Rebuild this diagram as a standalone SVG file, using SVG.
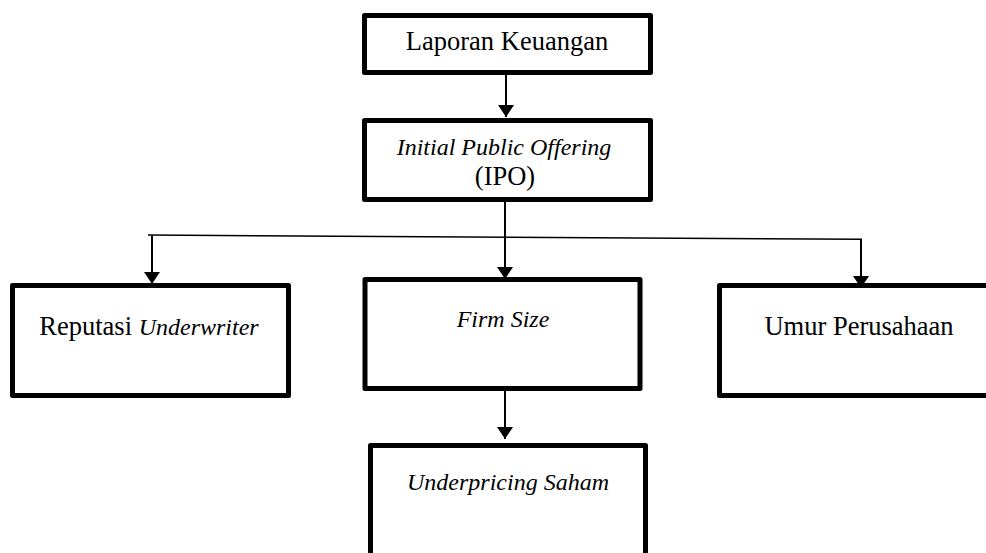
<svg xmlns="http://www.w3.org/2000/svg" width="986" height="553" viewBox="0 0 986 553">
  <style>
    .box { fill: #ffffff; stroke: #000000; stroke-width: 5; stroke-linejoin: round; }
    .t { font-family: "Liberation Serif", "DejaVu Serif", serif; font-size: 26.5px; fill: #000000; text-anchor: middle; }
    .i { font-style: italic; font-size: 24px; }
    .conn { stroke: #000000; stroke-width: 2; fill: none; }
    .thin { stroke: #000000; stroke-width: 1.5; fill: none; }
  </style>
  <defs>
    <marker id="arrow" markerUnits="userSpaceOnUse" viewBox="0 0 12 16" refX="12" refY="8" markerWidth="12" markerHeight="16" orient="auto">
      <path d="M0,0 L12,8 L0,16 Z" fill="#000000"/>
    </marker>
  </defs>
  <rect width="986" height="553" fill="#ffffff"/>

  <g id="connectors">
    <line class="conn" x1="506" y1="75" x2="506" y2="117" marker-end="url(#arrow)"/>
    <line class="conn" x1="505" y1="202" x2="505" y2="279" marker-end="url(#arrow)"/>
    <line class="thin" x1="148" y1="235" x2="862" y2="239.3"/>
    <line class="conn" x1="152" y1="235.5" x2="152" y2="284" marker-end="url(#arrow)"/>
    <line class="conn" x1="861" y1="239" x2="861" y2="288" marker-end="url(#arrow)"/>
    <line class="conn" x1="505" y1="390" x2="505" y2="439" marker-end="url(#arrow)"/>
  </g>

  <g id="laporan-keuangan">
    <rect class="box" x="364.5" y="15.5" width="286" height="57"/>
    <text class="t" x="507" y="50">Laporan Keuangan</text>
  </g>

  <g id="ipo">
    <rect class="box" x="364.5" y="120.5" width="286" height="79"/>
    <text class="t i" x="504" y="155">Initial Public Offering</text>
    <text class="t" x="505" y="185">(IPO)</text>
  </g>

  <g id="reputasi-underwriter">
    <rect class="box" x="12.5" y="285.5" width="276" height="110"/>
    <text class="t" x="149" y="335">Reputasi <tspan class="i">Underwriter</tspan></text>
  </g>

  <g id="firm-size">
    <rect class="box" x="365" y="279.5" width="275" height="109"/>
    <text class="t i" x="503" y="327">Firm Size</text>
  </g>

  <g id="umur-perusahaan">
    <rect class="box" x="719.5" y="285.5" width="300" height="110"/>
    <text class="t" x="859" y="335">Umur Perusahaan</text>
  </g>

  <g id="underpricing-saham">
    <rect class="box" x="370.5" y="445.5" width="275" height="120"/>
    <text class="t i" x="508" y="490">Underpricing Saham</text>
  </g>
</svg>
